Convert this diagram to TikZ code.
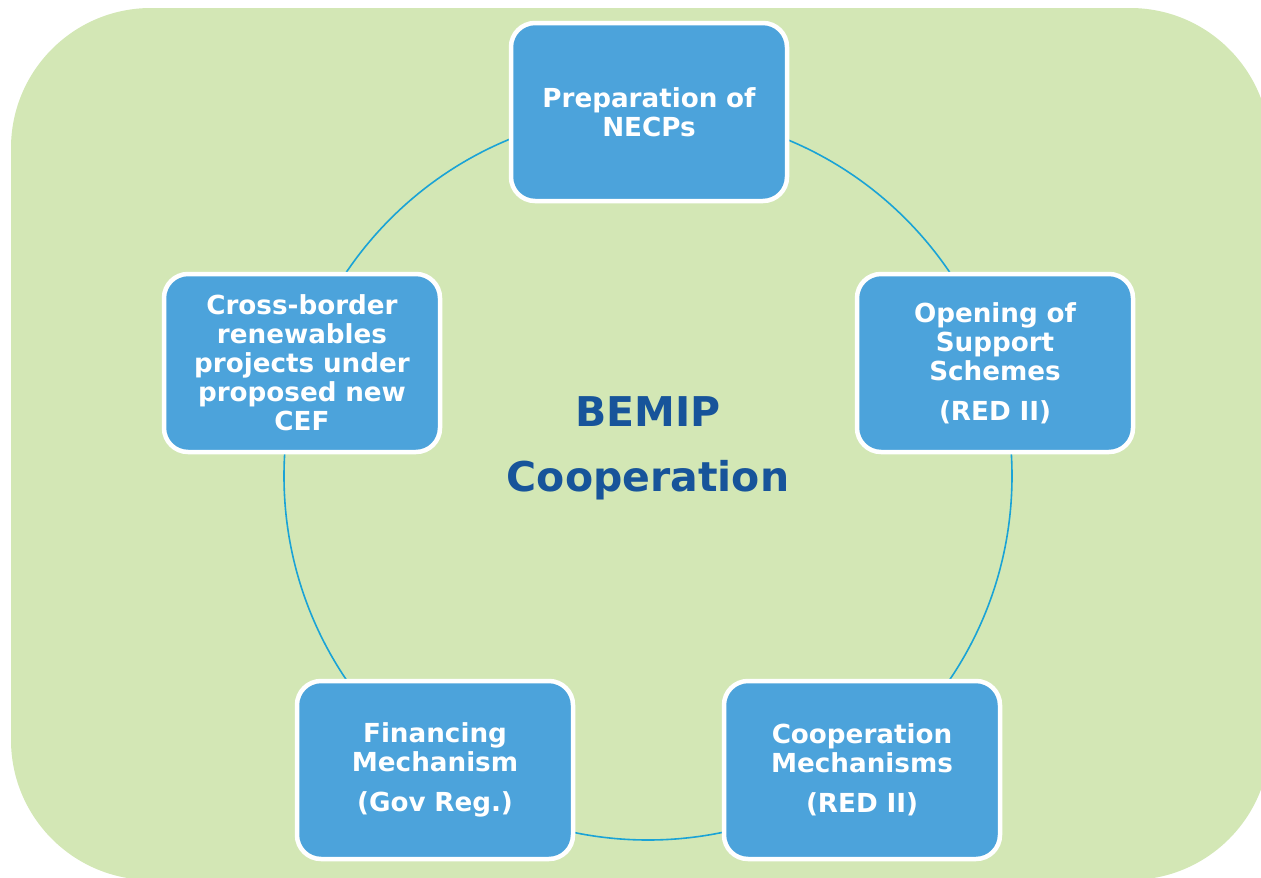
\documentclass[tikz,border=0pt]{standalone}
\usepackage{fontspec}
\setmainfont{DejaVu Sans}
\definecolor{bggreen}{HTML}{D3E7B5}
\definecolor{boxblue}{HTML}{4CA3DB}
\definecolor{ringcyan}{HTML}{1AA3D6}
\definecolor{titleblue}{HTML}{17549A}
\tikzset{
  stepbox/.style={draw=white, line width=4.5pt, fill=boxblue, rounded corners=24pt,
    minimum width=276pt, minimum height=178pt, text width=266pt, align=center,
    text=white, font=\bfseries\fontsize{26.2}{29}\selectfont, inner sep=0pt},
  ring/.style={draw=ringcyan, line width=1.6pt},
  titletext/.style={text=titleblue, align=center, font=\bfseries\fontsize{41}{65}\selectfont}
}
\begin{document}
\begin{tikzpicture}[x=1pt,y=-1pt]
\useasboundingbox (0,0) rectangle (1261,878);
\begin{scope}
\clip (0,0) rectangle (1261,878);
\fill[bggreen, rounded corners=140pt] (11,8) rectangle (1270,880);
\end{scope}
\coordinate (c) at (648,476);
\draw[ring] (c) circle (364);
\node[stepbox] (top) at (649,112) {Preparation of\\NECPs};
\node[stepbox] (right) at (995,363) {Opening of\\Support\\Schemes\\[11pt](RED II)};
\node[stepbox] (br) at (862,770) {Cooperation\\Mechanisms\\[11pt](RED II)};
\node[stepbox] (bl) at (435,770) {Financing\\Mechanism\\[11pt](Gov Reg.)};
\node[stepbox] (left) at (302,363) {Cross-border\\renewables\\projects under\\proposed new\\CEF};
\node[titletext] (title) at (648,448) {BEMIP\\Cooperation};
\end{tikzpicture}
\end{document}
